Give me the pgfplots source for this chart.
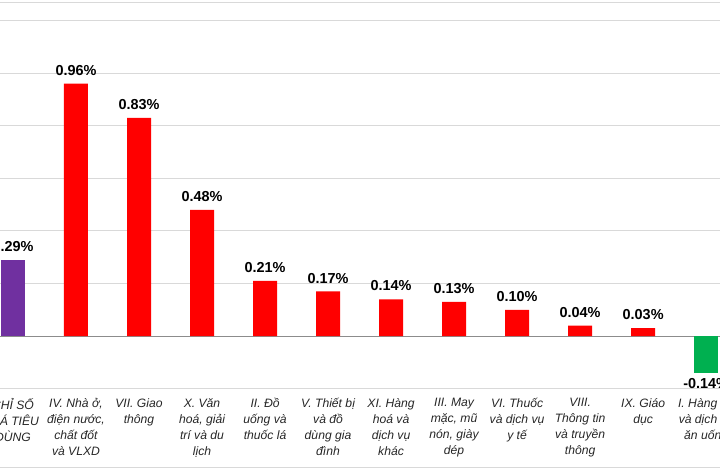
\documentclass[border=0pt]{standalone}
\usepackage{pgfplots}
\pgfplotsset{compat=1.18}
\usepackage{fontspec}
\setmainfont{Liberation Sans}
\definecolor{cred}{HTML}{FF0000}
\definecolor{cpurple}{HTML}{7030A0}
\definecolor{cgreen}{HTML}{00B050}
\definecolor{cgrid}{HTML}{D9D9D9}
\definecolor{czero}{HTML}{8C8C8C}
\begin{document}
\begin{tikzpicture}
\useasboundingbox (0,0) rectangle (720bp,471bp);
\clip (0,0) rectangle (720bp,471bp);
\begin{axis}[
  at={(0,0)}, anchor=south west,
  scale only axis, width=720bp, height=471bp,
  xmin=-0.206, xmax=11.22, ymin=-0.513, ymax=1.278,
  axis line style={draw=none},
  major tick length=0,
  ytick={-0.498,-0.2,0.2,0.4,0.6,0.8,1.0,1.2,1.27},
  yticklabels={},
  ymajorgrids, grid style={cgrid, line width=1bp},
  extra y ticks={0}, extra y tick labels={},
  extra y tick style={grid style={czero, line width=1bp}},
  xtick={0,...,11},
  xticklabels={{CHỈ SỐ\\GIÁ TIÊU\\DÙNG},{IV. Nhà ở,\\điện nước,\\chất đốt\\và VLXD},{VII. Giao\\thông},{X. Văn\\hoá, giải\\trí và du\\lịch},{II. Đồ\\uống và\\thuốc lá},{V. Thiết bị\\và đồ\\dùng gia\\đình},{XI. Hàng\\hoá và\\dịch vụ\\khác},{III. May\\mặc, mũ\\nón, giày\\dép},{VI. Thuốc\\và dịch vụ\\y tế},{VIII.\\Thông tin\\và truyền\\thông},{IX. Giáo\\dục},{I. Hàng ăn\\và dịch vụ\\ăn uống}},
  xticklabel style={font=\itshape\fontsize{12.2}{16}\selectfont, align=center, anchor=north, yshift=76bp, text=black!85},
  ybar, bar width=24bp, bar shift=0pt,
  /pgf/number format/assume math mode=true,
  nodes near coords={\pgfmathprintnumber[fixed,fixed zerofill,precision=2]{\pgfplotspointmeta}\%},
  nodes near coords align={vertical},
  every node near coord/.append style={font=\bfseries\fontsize{14.5}{16}\selectfont, text=black, inner sep=4bp, yshift=4bp},
]
\addplot[draw=none, fill=cpurple] coordinates {(0,0.29)};
\addplot[draw=none, fill=cred] coordinates {(1,0.96) (2,0.83) (3,0.48) (4,0.21) (5,0.17) (6,0.14) (7,0.13) (8,0.10) (9,0.04) (10,0.03)};
\addplot[draw=none, fill=cgreen, every node near coord/.append style={yshift=-5bp}] coordinates {(11,-0.14)};
\end{axis}
\end{tikzpicture}
\end{document}
